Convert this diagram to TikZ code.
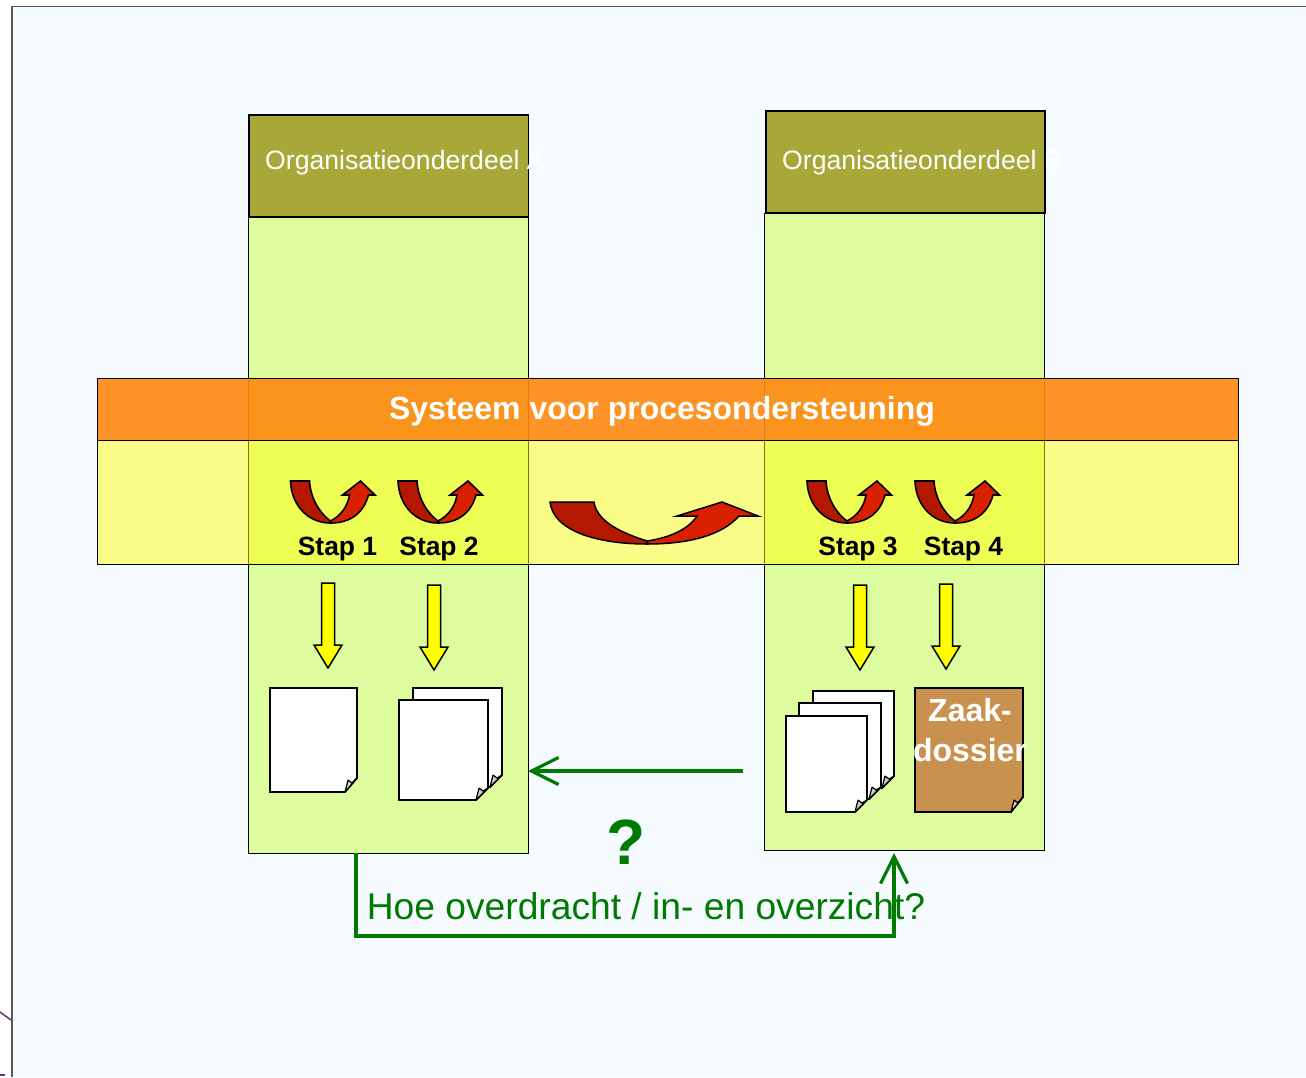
\documentclass[tikz,border=0pt]{standalone}
\usepackage{fontspec}
\setmainfont{Liberation Sans}
\usetikzlibrary{arrows.meta}
\definecolor{paleblue}{HTML}{F5FBFF}
\definecolor{olive}{HTML}{A8A838}
\definecolor{lime}{HTML}{DDFC9E}
\definecolor{flowgreen}{HTML}{007A00}
\definecolor{darkred}{HTML}{B41800}
\definecolor{brightred}{HTML}{D92000}
\definecolor{zaak}{HTML}{C9914F}
\definecolor{sysorange}{HTML}{FF8910}
\definecolor{pureyellow}{HTML}{FFFF00}
\definecolor{stray}{HTML}{6A3080}
\newcommand{\sheet}[6][white]{%
  \draw[sheetline,fill=#1] (#2,#3) -- ++(#4,0) -- ++(0,#5-#6) -- ++(-12,#6) -- ++(12-#4,0) -- cycle;
  \draw[sheetline,line width=1.2pt,line join=bevel,fill=black!20] (#2+#4-12,#3+#5) .. controls (#2+#4-11,#3+#5-6) .. (#2+#4-9,#3+#5-12) -- (#2+#4-5,#3+#5-9) -- (#2+#4,#3+#5-#6) -- cycle;
}
\tikzset{
  column/.style={draw=black,line width=0.6pt,fill=lime,minimum width=280pt,inner sep=0pt,outer sep=0pt},
  header/.style={draw=black,line width=1.6pt,fill=olive,minimum width=279.5pt,minimum height=102pt,inner sep=0pt,outer sep=0pt},
  headtext/.style={text=white,font=\fontsize{26.6}{30}\selectfont,inner sep=0pt,anchor=west},
  steptext/.style={font=\bfseries\fontsize{26.4}{32}\selectfont,inner sep=0pt},
  sheetline/.style={draw=black,line width=1.8pt,line join=miter},
  flow/.style={draw=flowgreen,line width=3.2pt,>={Straight Barb[length=27pt,width=27pt,line width=3.2pt]}},
  swoop/.pic={
    \draw[line width=1.6pt,fill=darkred] (0,0) -- (19,0) .. controls (20,18) and (30,33) .. (40,40) -- (40,42) .. controls (18,42) and (1,25) .. (0,0) -- cycle;
    \draw[line width=1.6pt,fill=brightred] (40,40) .. controls (50,35) and (57,26) .. (59,14) -- (52,14) -- (70,0) -- (84.5,14) -- (78,14) .. controls (73,32) and (60,42) .. (40,42) -- cycle;
  },
  dropdown/.pic={
    \draw[line width=1.5pt,fill=pureyellow] (-6.5,0) -- (6.5,0) -- (6.5,62) -- (14,62) -- (0,85) -- (-14,62) -- (-6.5,62) -- cycle;
  }
}
\begin{document}
\begin{tikzpicture}[x=1pt,y=-1pt]
  \useasboundingbox (0,0) rectangle (1306,1077);
  \fill[white] (0,0) rectangle (1306,1077);
  \fill[paleblue] (12,7) rectangle (1306,1077);
  \draw[draw=black!65,line width=1.2pt] (1306,6.5) -- (12,6.5) -- (12,1077);
  \draw[line width=1.5pt,color=stray] (0,1012) -- (11,1020);
  \draw[line width=1.5pt,color=stray] (0,1075) -- (5,1075);

  \node (colA) [column,minimum height=637pt] at (388.5,535) {};
  \node (colB) [column,minimum height=637pt] at (904.5,531.5) {};
  \node (hdrA) [header] at (388.7,166) {};
  \node (hdrB) [header] at (905.5,162) {};
  \node (nameA) [headtext] at (265,163) {Organisatieonderdeel A};
  \node (nameB) [headtext] at (782,163) {Organisatieonderdeel\ B};

  \node (lane) [draw=black,line width=0.6pt,fill=pureyellow,fill opacity=0.47,minimum width=1141pt,minimum height=124pt,inner sep=0pt,outer sep=0pt] at (667.5,502) {};
  \node (sys) [draw=black,line width=0.6pt,fill=sysorange,fill opacity=0.9,minimum width=1141pt,minimum height=62pt,inner sep=0pt,outer sep=0pt] at (667.5,409) {};
  \node (sysname) [text=white,font=\bfseries\fontsize{32}{38}\selectfont,inner sep=0pt] at (662,411) {Systeem voor procesondersteuning};

  \pic at (290.5,481) {swoop};
  \pic at (398,481) {swoop};
  \pic at (807,481) {swoop};
  \pic at (915,481) {swoop};
  \draw[line width=1.5pt,fill=darkred] (550,502) -- (594,502) .. controls (597,522) and (622,533) .. (647,541) -- (647,544) .. controls (595,544) and (553,530) .. (550,502) -- cycle;
  \draw[line width=1.5pt,fill=brightred] (647,541) .. controls (668,538) and (688,530) .. (697,516) -- (677,516) -- (722,502) -- (758,516) -- (739,516) .. controls (722,535) and (690,544) .. (647,544) -- cycle;

  \node (s1) [steptext] at (337.5,549) {Stap 1};
  \node (s2) [steptext,right of=s1,node distance=101.5pt] {Stap 2};
  \node (s3) [steptext] at (858,549) {Stap 3};
  \node (s4) [steptext,right of=s3,node distance=105.5pt] {Stap 4};

  \pic at (328,583) {dropdown};
  \pic at (434,585) {dropdown};
  \pic at (860,585) {dropdown};
  \pic at (946,584) {dropdown};

  \sheet{270}{688}{87}{104}{14}
  \sheet{413}{688}{89}{99}{12}
  \sheet{399}{700}{89}{100}{12}
  \sheet{813}{691}{81}{97}{12}
  \sheet{799}{703}{82}{96}{12}
  \sheet{786}{716}{81}{96}{12}
  \sheet[zaak]{915}{688}{108}{124}{15}
  \node (dossier) [text=white,align=center,font=\bfseries\fontsize{32}{40}\selectfont,inner sep=0pt] at (970,730) {Zaak-\\dossier};

  \coordinate (fromB) at (743,771);
  \coordinate (toA) at (528,771);
  \coordinate (leaveA) at (356,853);
  \coordinate (turn) at (894,936);
  \coordinate (toB) at (894,853);
  \draw[flow,->] (fromB) -- (toA);
  \draw[flow,->] (leaveA) |- (turn) -- (toB);

  \node (ask) [text=flowgreen,font=\bfseries\fontsize{64}{70}\selectfont,inner sep=0pt] at (626,842) {?};
  \node (how) [text=flowgreen,font=\fontsize{37.2}{42}\selectfont,inner sep=0pt] at (646,906) {Hoe overdracht / in- en overzicht?};
\end{tikzpicture}
\end{document}
